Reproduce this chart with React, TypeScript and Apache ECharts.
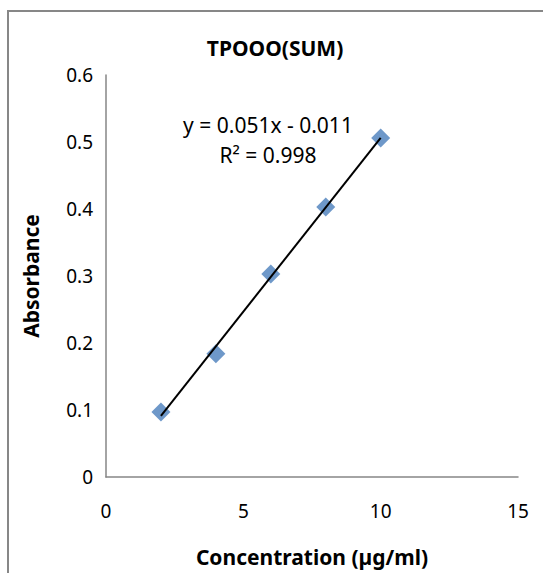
import React, { useEffect, useRef } from "react";
import * as echarts from "echarts";

const concentrations = [2, 4, 6, 8, 10];
const absorbances = [0.097, 0.184, 0.303, 0.403, 0.506];
const xTicks = [0, 5, 10, 15];
const yTicks = [0, 0.1, 0.2, 0.3, 0.4, 0.5, 0.6];
const titleText = "TPOOO(SUM)";
const xName = "Concentration (µg/ml)";
const yName = "Absorbance";
const equationLines = ["y = 0.051x - 0.011", "R² = 0.998"];

function regression(xs: number[], ys: number[]) {
  const n = xs.length;
  const mx = xs.reduce((a, b) => a + b, 0) / n;
  const my = ys.reduce((a, b) => a + b, 0) / n;
  let sxy = 0;
  let sxx = 0;
  for (let i = 0; i < n; i++) {
    sxy += (xs[i] - mx) * (ys[i] - my);
    sxx += (xs[i] - mx) * (xs[i] - mx);
  }
  const slope = sxy / sxx;
  return { slope, intercept: my - slope * mx };
}

export default function App() {
  const ref = useRef<HTMLDivElement>(null);
  useEffect(() => {
    if (!ref.current) return;
    const chart = echarts.init(ref.current, null, { renderer: "svg" });
    const { slope, intercept } = regression(concentrations, absorbances);
    const xMin = Math.min(...concentrations);
    const xMax = Math.max(...concentrations);
    const trend = [
      [xMin, slope * xMin + intercept],
      [xMax, slope * xMax + intercept],
    ];
    const font = "'Noto Sans', sans-serif";
    chart.setOption({
      animation: false,
      backgroundColor: "#ffffff",
      textStyle: { fontFamily: font },
      title: {
        text: titleText,
        left: 270,
        textAlign: "center",
        top: 32,
        textStyle: { fontFamily: font, fontSize: 21, fontWeight: "bold", color: "#000" },
      },
      grid: { left: 106, right: 25, top: 75, bottom: 96 },
      xAxis: {
        type: "value",
        min: xTicks[0],
        max: xTicks[xTicks.length - 1],
        interval: xTicks[1] - xTicks[0],
        name: xName,
        nameLocation: "middle",
        nameGap: 69,
        nameTextStyle: { fontFamily: font, fontSize: 21, fontWeight: "bold", color: "#000" },
        axisLine: { show: true, lineStyle: { color: "#868686", width: 1.5 } },
        axisTick: { show: false },
        splitLine: { show: false },
        axisLabel: { fontFamily: font, fontSize: 19, color: "#000", margin: 24 },
      },
      yAxis: {
        type: "value",
        min: yTicks[0],
        max: yTicks[yTicks.length - 1],
        interval: 0.1,
        name: yName,
        nameLocation: "middle",
        nameGap: 65,
        nameTextStyle: { fontFamily: font, fontSize: 21, fontWeight: "bold", color: "#000" },
        axisLine: { show: true, lineStyle: { color: "#868686", width: 1.5 } },
        axisTick: { show: false },
        splitLine: { show: false },
        axisLabel: {
          fontFamily: font,
          fontSize: 19,
          color: "#000",
          margin: 13,
          formatter: (v: number) => String(Math.round(v * 10) / 10),
        },
      },
      graphic: [
        {
          type: "rect",
          shape: { x: 8, y: 11, width: 600, height: 600 },
          style: { fill: "none", stroke: "#878787", lineWidth: 2 },
          silent: true,
        },
        {
          type: "text",
          x: 268,
          y: 125,
          style: {
            text: equationLines[0],
            fontFamily: font,
            fontSize: 21,
            fill: "#000",
            align: "center",
            verticalAlign: "middle",
          },
        },
        {
          type: "text",
          x: 268,
          y: 155,
          style: {
            text: equationLines[1],
            fontFamily: font,
            fontSize: 21,
            fill: "#000",
            align: "center",
            verticalAlign: "middle",
          },
        },
      ],
      series: [
        {
          type: "scatter",
          data: concentrations.map((x, i) => [x, absorbances[i]]),
          symbol: "diamond",
          symbolSize: 19,
          itemStyle: { color: "#4A7EBB" },
          z: 2,
        },
        {
          type: "line",
          data: trend,
          showSymbol: false,
          symbol: "none",
          lineStyle: { color: "#000", width: 2 },
          z: 3,
        },
      ],
    });
    return () => chart.dispose();
  }, []);
  return (
    <div
      ref={ref}
      style={{ position: "absolute", left: 0, top: 0, width: 543, height: 573 }}
    />
  );
}
